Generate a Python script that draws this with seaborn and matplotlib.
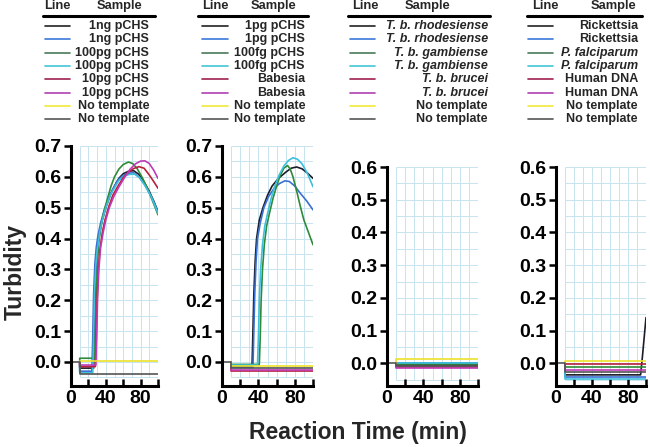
import numpy as np
import pandas as pd
import matplotlib
matplotlib.use("Agg")
import matplotlib.pyplot as plt
from matplotlib.lines import Line2D
import seaborn as sns

# ---- data ----
# panel 1: pCHS dilutions
p1_black = [(10, 0), (10, -0.02), (26, -0.02), (27, 0.08), (28, 0.22), (29.5, 0.32), (31, 0.38), (33, 0.42),
            (36, 0.46), (40, 0.5), (45, 0.54), (50, 0.57), (55, 0.595), (60, 0.61), (66, 0.618), (72, 0.62),
            (78, 0.608), (84, 0.583), (90, 0.553), (95, 0.522), (100, 0.487)]
p1_blue = [(10, 0), (10, -0.03), (24, -0.03), (25, 0.08), (26, 0.22), (27.5, 0.32), (29, 0.37), (31, 0.41),
           (34, 0.45), (38, 0.49), (43, 0.53), (48, 0.56), (54, 0.59), (60, 0.605), (66, 0.612), (72, 0.613),
           (78, 0.6), (84, 0.578), (90, 0.548), (95, 0.52), (100, 0.488)]
p1_green = [(10, 0), (10, 0.012), (27, 0.012), (28, 0.1), (29, 0.23), (30.5, 0.33), (32, 0.39), (35, 0.45),
            (38, 0.49), (42, 0.53), (46, 0.57), (50, 0.6), (55, 0.625), (60, 0.64), (66, 0.648), (71, 0.643),
            (76, 0.627), (82, 0.597), (88, 0.562), (94, 0.52), (100, 0.477)]
p1_cyan = [(10, 0), (10, -0.035), (25, -0.035), (26, 0.08), (27, 0.22), (28.5, 0.31), (30, 0.36), (33, 0.42),
           (36, 0.46), (40, 0.5), (45, 0.54), (50, 0.565), (55, 0.588), (61, 0.602), (67, 0.608), (73, 0.609),
           (79, 0.597), (85, 0.572), (92, 0.537), (100, 0.482)]
p1_red = [(10, 0), (10, -0.015), (28, -0.015), (29, 0.08), (30, 0.2), (31.5, 0.3), (33, 0.36), (36, 0.42),
          (39, 0.46), (43, 0.5), (48, 0.54), (54, 0.57), (60, 0.597), (66, 0.615), (72, 0.627), (78, 0.633),
          (84, 0.628), (90, 0.606), (95, 0.585), (100, 0.563)]
p1_magenta = [(10, 0), (10, -0.01), (28.5, -0.01), (29.5, 0.08), (30.5, 0.2), (32, 0.3), (34, 0.37), (37, 0.42),
              (40, 0.46), (44, 0.5), (49, 0.535), (55, 0.567), (62, 0.6), (68, 0.625), (74, 0.642), (80, 0.651),
              (85, 0.652), (90, 0.643), (95, 0.622), (100, 0.595)]
p1_yellow = [(10, 0), (10, 0.003), (100, 0.003)]
p1_gray = [(0, 0), (10, 0), (10, -0.04), (100, -0.04)]

# panel 2: pCHS dilutions + Babesia
p2_black = [(10, 0), (10, -0.015), (33, -0.015), (34, 0.1), (35, 0.22), (36.5, 0.33), (38, 0.4), (41, 0.46),
            (45, 0.5), (50, 0.54), (55, 0.57), (62, 0.595), (70, 0.615), (76, 0.628), (82, 0.632), (88, 0.626),
            (94, 0.612), (100, 0.595)]
p2_blue = [(10, 0), (10, -0.018), (34, -0.018), (35, 0.1), (36, 0.22), (37.5, 0.33), (39, 0.4), (42, 0.45),
           (46, 0.5), (51, 0.535), (57, 0.562), (63, 0.578), (69, 0.587), (74, 0.585), (80, 0.57), (86, 0.547),
           (93, 0.522), (100, 0.493)]
p2_green = [(10, 0), (10, -0.008), (41, -0.008), (42, 0.08), (43, 0.2), (44.5, 0.3), (46.5, 0.38), (49, 0.44),
            (52, 0.48), (56, 0.53), (60, 0.57), (64, 0.605), (68, 0.628), (72, 0.637), (75, 0.625), (78, 0.6),
            (82, 0.555), (86, 0.505), (90, 0.46), (95, 0.42), (100, 0.38)]
p2_cyan = [(10, 0), (10, -0.01), (39, -0.01), (40, 0.08), (41, 0.2), (42.5, 0.3), (44.5, 0.38), (47, 0.44),
           (50, 0.48), (54, 0.53), (58, 0.57), (63, 0.607), (68, 0.635), (73, 0.653), (78, 0.662), (83, 0.657),
           (88, 0.642), (94, 0.61), (100, 0.568)]
p2_red = [(10, 0), (10, -0.028), (100, -0.028)]
p2_magenta = [(10, 0), (10, -0.025), (100, -0.025)]
p2_yellow = [(10, 0), (10, -0.012), (100, -0.012)]
p2_gray = [(0, 0), (10, 0), (10, -0.02), (100, -0.02)]

# panel 3: T. brucei subspecies (all flat)
p3_black = [(10, 0), (10, -0.005), (100, -0.005)]
p3_blue = [(10, 0), (10, 0.002), (100, 0.002)]
p3_green = [(10, 0), (10, -0.003), (100, -0.003)]
p3_cyan = [(10, 0), (10, 0.0), (100, 0.0)]
p3_red = [(10, 0), (10, -0.011), (100, -0.011)]
p3_magenta = [(10, 0), (10, -0.013), (100, -0.013)]
p3_yellow = [(10, 0), (10, 0.013), (100, 0.013)]
p3_gray = [(0, 0), (10, 0), (10, -0.008), (100, -0.008)]

# panel 4: other pathogens
p4_black = [(10, 0), (10, -0.035), (94, -0.035), (96, 0.02), (100, 0.14)]
p4_blue = [(10, 0), (10, -0.042), (100, -0.042)]
p4_green = [(10, 0), (10, -0.01), (100, -0.01)]
p4_cyan = [(10, 0), (10, -0.047), (100, -0.047)]
p4_red = [(10, 0), (10, -0.003), (100, -0.003)]
p4_magenta = [(10, 0), (10, -0.019), (100, -0.019)]
p4_yellow = [(10, 0), (10, 0.006), (100, 0.006)]
p4_gray = [(0, 0), (10, 0), (10, -0.026), (100, -0.026)]

labels1 = ["1ng pCHS", "1ng pCHS", "100pg pCHS", "100pg pCHS", "10pg pCHS", "10pg pCHS", "No template", "No template"]
labels2 = ["1pg pCHS", "1pg pCHS", "100fg pCHS", "100fg pCHS", "Babesia", "Babesia", "No template", "No template"]
labels3 = ["T. b. rhodesiense", "T. b. rhodesiense", "T. b. gambiense", "T. b. gambiense",
           "T. b. brucei", "T. b. brucei", "No template", "No template"]
labels4 = ["Rickettsia", "Rickettsia", "P. falciparum", "P. falciparum", "Human DNA", "Human DNA",
           "No template", "No template"]
italic3 = [True] * 6 + [False, False]
italic4 = [False, False, True, True, False, False, False, False]

colors = ["#1c1c2a", "#3a6fd2", "#2f8a3a", "#3cc0dc", "#b8203c", "#c03ab8", "#ece22a", "#555555"]
legend_colors = ["#222222", "#3b78d8", "#4a7a5a", "#45c6d6", "#a02050", "#b040b0", "#f2ea3a", "#555555"]

panels = [
    dict(series=[p1_black, p1_blue, p1_green, p1_cyan, p1_red, p1_magenta, p1_yellow, p1_gray],
         top=0.7, bottom=-0.078, rect=[71, 146, 158, 386], labels=labels1, italic=[False] * 8,
         leg=dict(line=(45, 70), head_line=57, head_sample=120, rule=(43, 155), text_right=149)),
    dict(series=[p2_black, p2_blue, p2_green, p2_cyan, p2_red, p2_magenta, p2_yellow, p2_gray],
         top=0.7, bottom=-0.078, rect=[222, 146, 313, 386], labels=labels2, italic=[False] * 8,
         leg=dict(line=(202, 228), head_line=215, head_sample=274, rule=(198, 308), text_right=305)),
    dict(series=[p3_black, p3_blue, p3_green, p3_cyan, p3_red, p3_magenta, p3_yellow, p3_gray],
         top=0.6, bottom=-0.069, rect=[387, 167, 478, 386], labels=labels3, italic=italic3,
         leg=dict(line=(350, 375), head_line=365, head_sample=428, rule=(348, 490), text_right=488)),
    dict(series=[p4_black, p4_blue, p4_green, p4_cyan, p4_red, p4_magenta, p4_yellow, p4_gray],
         top=0.6, bottom=-0.069, rect=[556, 167, 646, 386], labels=labels4, italic=italic4,
         leg=dict(line=(528, 553), head_line=545, head_sample=614, rule=(527, 642), text_right=638)),
]

sns.set_theme(style="white")
plt.rcParams["font.family"] = ["Liberation Sans", "DejaVu Sans"]
plt.rcParams["font.weight"] = "bold"

W, H = 650, 447
fig = plt.figure(figsize=(W / 100, H / 100), dpi=100)


def fx(x):
    return x / W


def fy(y):
    return 1 - y / H


grid_c = "#c8e4ee"
row_y = [26, 39.3, 52.6, 66, 79.3, 92.6, 106, 119.3]

for p in panels:
    x0, y0, x1, y1 = p["rect"]
    ax = fig.add_axes([fx(x0), fy(y1), (x1 - x0) / W, (y1 - y0) / H])
    top = p["top"]
    ax.vlines(np.arange(10, 101, 10), -0.05, top, color=grid_c, lw=0.7, zorder=0)
    ax.hlines(np.arange(-0.05, top + 0.001, 0.05), 10, 100, color=grid_c, lw=0.7, zorder=0)
    for s, c in zip(p["series"], colors):
        d = pd.DataFrame(s, columns=["t", "v"])
        sns.lineplot(data=d, x="t", y="v", estimator=None, sort=False, color=c, lw=1.2, ax=ax)
    ax.set_xlim(0, 100)
    ax.set_ylim(p["bottom"], top)
    ax.set_xlabel("")
    ax.set_ylabel("")
    ax.set_xticks([0, 40, 80])
    ax.set_xticks([20, 60, 100], minor=True)
    yt = np.round(np.arange(0, top + 0.001, 0.1), 1)
    ax.set_yticks(yt)
    ax.set_yticklabels(["%.1f" % v for v in yt])
    for sp in ["top", "right"]:
        ax.spines[sp].set_visible(False)
    for sp in ["left", "bottom"]:
        ax.spines[sp].set_linewidth(2.2)
        ax.spines[sp].set_color("black")
    ax.tick_params(axis="x", which="both", direction="in", length=5, width=1.8, labelsize=14, pad=3,
                   bottom=True, colors="black")
    ax.tick_params(axis="y", direction="out", length=5, width=1.8, labelsize=14, pad=2, left=True,
                   colors="black")
    for t in ax.get_xticklabels() + ax.get_yticklabels():
        t.set_fontweight("bold")

    # table-style legend above the panel
    lg = p["leg"]
    fig.text(fx(lg["head_line"]), fy(6), "Line", ha="center", va="center", fontsize=9.3, fontweight="bold")
    fig.text(fx(lg["head_sample"]), fy(6), "Sample", ha="center", va="center", fontsize=9.3, fontweight="bold")
    fig.add_artist(Line2D([fx(lg["rule"][0]), fx(lg["rule"][1])], [fy(15.7), fy(15.7)],
                          color="black", lw=2.2, transform=fig.transFigure))
    for ry, lab, c, it in zip(row_y, p["labels"], legend_colors, p["italic"]):
        fig.add_artist(Line2D([fx(lg["line"][0]), fx(lg["line"][1])], [fy(ry), fy(ry)],
                              color=c, lw=1.2, transform=fig.transFigure))
        fig.text(fx(lg["text_right"]), fy(ry), lab, ha="right", va="center", fontsize=9,
                 fontweight="bold", fontstyle="italic" if it else "normal")

fig.text(fx(15), fy(272), "Turbidity", rotation=90, ha="center", va="center", fontsize=16.5, fontweight="bold")
fig.text(fx(358), fy(432), "Reaction Time (min)", ha="center", va="center", fontsize=16.5, fontweight="bold")

fig.savefig("out.png", dpi=100)
